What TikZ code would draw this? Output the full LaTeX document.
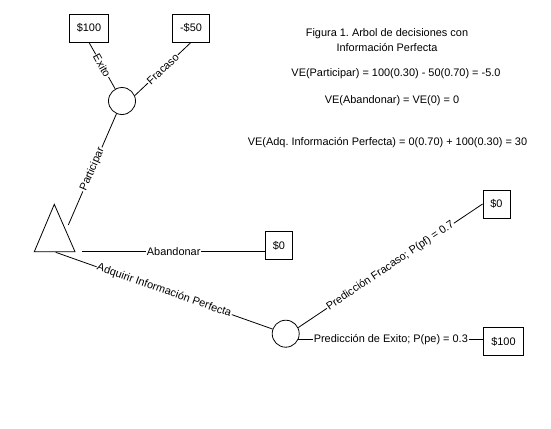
\documentclass[tikz,border=0pt]{standalone}
\usepackage{fontspec}
\setmainfont{Liberation Sans}
\usetikzlibrary{positioning,shapes,calc}
\frenchspacing

\begin{document}
\begin{tikzpicture}[
    x=0.75pt, y=-0.75pt,
    every node/.style={font=\fontsize{8.2}{11.25}\selectfont},
    every path/.style={line width=0.6pt},
    pay/.style={draw, rectangle, minimum height=21pt, inner xsep=5.6pt},
    chance/.style={draw, circle, minimum size=20.25pt, inner sep=0pt},
    lbl/.style={sloped, fill=white, inner sep=0.6pt}
]
\useasboundingbox (0,0) rectangle (551,429);
% texto
\node[align=center] (title) at (387,40.5) {Figura 1. Arbol de decisiones con\\Información Perfecta};
\node (vepart) at (396,74) {VE(Participar) = 100(0.30) - 50(0.70) = -5.0};
\node (veaban) at (392,101) {VE(Abandonar) = VE(0) = 0};
\node (veadq) at (387.5,143) {VE(Adq. Información Perfecta) = 0(0.70) + 100(0.30) = 30};

% nodo de decision
\coordinate (dec-top) at (54.3,204.3);
\coordinate (dec-left) at (34.3,251.7);
\coordinate (dec-right) at (75,251.7);
\draw (dec-top) -- (dec-left) -- (dec-right) -- cycle;
\coordinate (dec-p) at (68.3,225);
\coordinate (dec-a) at (82.3,251.7);
\coordinate (dec-i) at (55.7,252.3);

% nodos de azar y pagos
\node[pay] (p100) at (89,28) {\$100};
\node[pay] (m50) at (191,28) {-\$50};
\node[chance] (c1) at (122,101) {};
\node[pay] (ab0) at (279,245.5) {\$0};
\node[chance] (c2) at (285.7,333.7) {};
\node[pay] (pf0) at (496.5,204) {\$0};
\node[pay] (pe100) at (503.5,341.5) {\$100};

% ramas
\draw (p100.south) -- node[lbl] {Exito} (c1);
\draw (m50.south) -- node[lbl] {Fracaso} (c1.23);
\draw (c1) -- node[lbl] {Participar} (dec-p);
\draw (dec-a) -- node[lbl] {Abandonar} (dec-a -| ab0.west);
\draw (dec-i) -- node[lbl] {Adquirir Información Perfecta} (c2);
\draw (c2.26) -- node[lbl] {Predicción Fracaso; P(pf) = 0.7} (pf0.west);
\draw (c2.-26) -- node[lbl] {Predicción de Exito; P(pe) = 0.3} (c2.-26 -| pe100.west);
\end{tikzpicture}
\end{document}
